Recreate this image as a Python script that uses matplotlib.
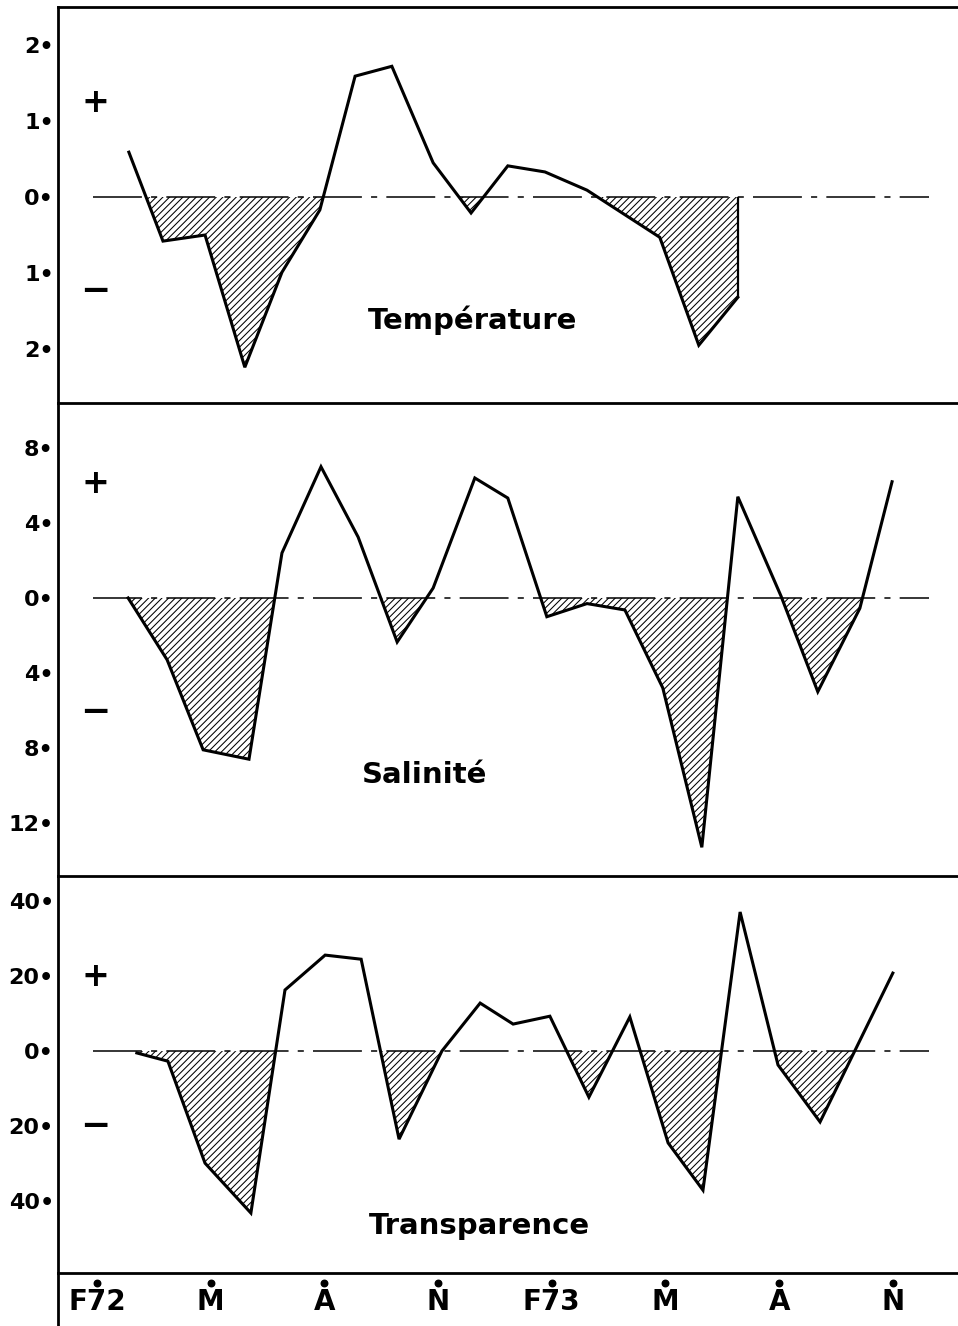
import matplotlib
matplotlib.use("Agg")
import matplotlib.pyplot as plt
import numpy as np

# months counted from February 1972 (F72 = 0)
month_ticks = [0, 3, 6, 9, 12, 15, 18, 21]
month_labels = ["F72", "M", "A", "N", "F73", "M", "A", "N"]

temp_month = [0.84, 1.74, 2.85, 3.90, 4.88, 5.88, 6.81, 7.78, 8.87, 9.87,
              10.84, 11.82, 12.93, 14.85, 15.88, 16.91]
temp_val = [0.59, -0.58, -0.50, -2.24, -0.99, -0.17, 1.59, 1.72, 0.45, -0.21,
            0.41, 0.33, 0.09, -0.53, -1.95, -1.32]

sal_month = [0.82, 1.85, 2.80, 4.01, 4.88, 5.91, 6.89, 7.92, 8.87, 9.97,
             10.84, 11.87, 12.93, 13.93, 14.93, 15.96, 16.91, 18.05, 19.02,
             20.13, 20.98]
sal_val = [0.0, -3.3, -8.1, -8.6, 2.4, 7.0, 3.25, -2.35, 0.53, 6.4,
           5.33, -1.0, -0.3, -0.64, -4.8, -13.3, 5.4, 0.1, -5.0,
           -0.55, 6.2]

transp_month = [1.05, 1.87, 2.85, 4.06, 4.96, 6.02, 6.97, 7.97, 9.1, 10.11,
                10.98, 11.95, 12.98, 14.06, 15.07, 15.99, 16.97, 17.97,
                19.08, 21.0]
transp_val = [-0.5, -2.7, -29.9, -43.2, 16.3, 25.6, 24.5, -23.5, 0.0, 12.8,
              7.2, 9.3, -12.3, 9.1, -24.5, -37.1, 37.1, -3.7,
              -18.9, 20.8]

temp_ticks = [2, 1, 0, -1, -2]
sal_ticks = [8, 4, 0, -4, -8, -12]
transp_ticks = [40, 20, 0, -20, -40]

plt.rcParams["font.family"] = ["DejaVu Sans"]
plt.rcParams["hatch.linewidth"] = 0.75

W, H = 958, 1326
fig = plt.figure(figsize=(W / 100, H / 100), dpi=100)
XLIM = (-1.03, 22.72)


def px_axes(top, bottom):
    return fig.add_axes([58 / W, 1 - bottom / H, (W - 58) / W, (bottom - top) / H])


def panel(ax, x, y, ylim, ticks, title, title_pos, sign_y, close_right=False):
    x = np.asarray(x)
    y = np.asarray(y)
    ax.set_xlim(*XLIM)
    ax.set_ylim(*ylim)
    ax.fill_between(x, y, 0, where=y < 0, interpolate=True, facecolor="white",
                    edgecolor="black", hatch="/////", linewidth=0)
    ax.hlines(0, -0.1, 21.95, color="black", lw=1.1,
              linestyles=[(0, (32, 6, 4, 6))])
    ax.plot(x, y, color="black", lw=2.2, solid_joinstyle="miter")
    if close_right:
        ax.vlines(x[-1], y[-1], 0, color="black", lw=1.6)
    ax.set_xticks([])
    ax.set_yticks(ticks)
    ax.set_yticklabels([f"{abs(t)}\u2022" for t in ticks], fontsize=16,
                       fontweight="bold")
    ax.tick_params(axis="y", length=0, pad=3)
    for s in ["right", "bottom"]:
        ax.spines[s].set_visible(False)
    ax.spines["left"].set_linewidth(2.0)
    ax.spines["top"].set_linewidth(2.0)
    ax.text(-0.05, sign_y, "+", fontsize=24, fontweight="bold",
            ha="center", va="center")
    ax.text(-0.05, -sign_y, "\u2212", fontsize=26, fontweight="bold",
            ha="center", va="center")
    ax.text(title_pos[0], title_pos[1], title, fontsize=21, fontweight="bold",
            ha="center", va="center")


ax1 = px_axes(7, 403)
panel(ax1, temp_month, temp_val, (-2.71, 2.5), temp_ticks, "Température",
      (9.92, -1.62), 1.24, close_right=True)

ax2 = px_axes(403, 876)
panel(ax2, sal_month, sal_val, (-14.83, 10.4), sal_ticks, "Salinité",
      (8.63, -9.44), 6.1)

ax3 = px_axes(876, 1273)
panel(ax3, transp_month, transp_val, (-59.2, 46.7), transp_ticks,
      "Transparence", (10.1, -46.7), 20)

ax4 = px_axes(1273, 1326)
ax4.set_xlim(*XLIM)
ax4.set_ylim(0, 1)
for s in ["right", "bottom"]:
    ax4.spines[s].set_visible(False)
ax4.spines["left"].set_linewidth(2.0)
ax4.spines["top"].set_linewidth(2.0)
ax4.set_xticks([])
ax4.set_yticks([])
ax4.scatter(month_ticks, [0.82] * len(month_ticks), s=22, color="black",
            zorder=5, clip_on=False)
for m, lab in zip(month_ticks, month_labels):
    ax4.text(m, 0.45, lab, fontsize=20, fontweight="bold", ha="center",
             va="center")

fig.savefig("out.png", dpi=100)
